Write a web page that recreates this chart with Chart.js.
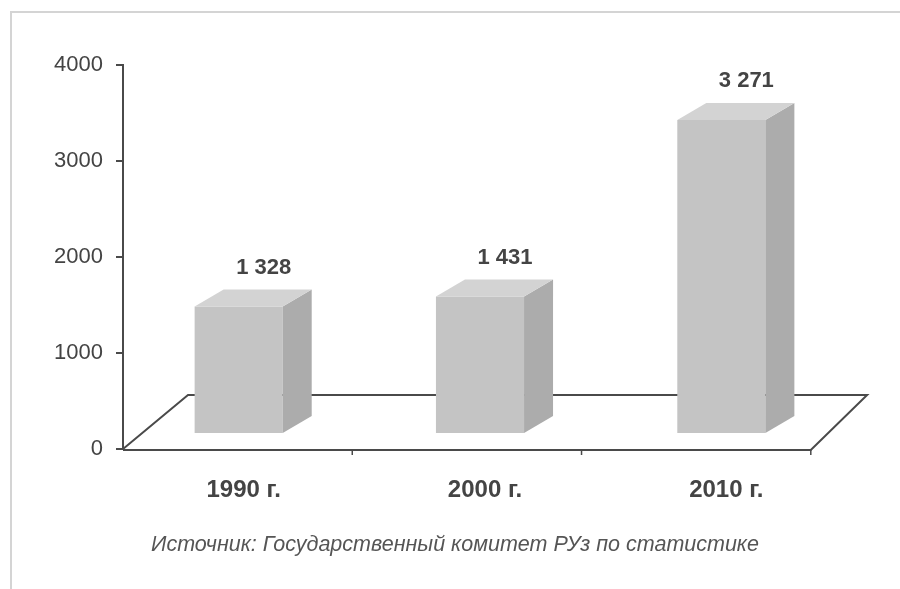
<!DOCTYPE html>
<html>
<head>
<meta charset="utf-8">
<script src="https://cdn.jsdelivr.net/npm/chart.js@4/dist/chart.umd.min.js"></script>
<style>
  html, body { margin: 0; padding: 0; background: #fff; }
  #wrap { position: relative; width: 900px; height: 589px; overflow: hidden; background: #fff; }
  #frame { position: absolute; left: 10px; top: 11px; right: 0; bottom: 0; border-top: 2px solid #d4d4d4; border-left: 2px solid #d4d4d4; }
  #chartBox { position: absolute; left: 0; top: 0; width: 900px; height: 589px; }
  #source { position: absolute; left: 0; width: 910px; top: 532px; text-align: center; font: italic 21.5px "Liberation Sans", Arial, sans-serif; color: #555; white-space: nowrap; }
</style>
</head>
<body>
<div id="wrap">
  <div id="frame"></div>
  <div id="chartBox"><canvas id="c" width="900" height="589"></canvas></div>
  <div id="source">Источник: Государственный комитет РУз по статистике</div>
</div>
<script>
const categories = ['1990 г.', '2000 г.', '2010 г.'];
const values = [1328, 1431, 3271];
const yTicks = [0, 1000, 2000, 3000, 4000];

function fmt(v) { return String(v).replace(/\B(?=(\d{3})+(?!\d))/g, ' '); }

const FRONT = '#c4c4c4', SIDE = '#acacac', TOP = '#d3d3d3', AXIS = '#4a4a4a', TXT = '#444';
const SHIFT_X = -5, SHIFT_Y = -15, DEPTH_X = 29, DEPTH_Y = -17;

const box3d = {
  id: 'box3d',
  beforeDatasetsDraw(chart) {
    const ctx = chart.ctx, xs = chart.scales.x, ys = chart.scales.y;
    const y0 = ys.getPixelForValue(0);
    const L = xs.left, W = xs.width;
    const fr = L + W * 0.95;
    const bl = L + 65, br = L + 65 + W * 0.938, by = y0 - 54;
    ctx.save();
    ctx.strokeStyle = AXIS; ctx.lineWidth = 2;
    ctx.beginPath();
    ctx.moveTo(L, y0); ctx.lineTo(bl, by); ctx.lineTo(br, by); ctx.lineTo(fr, y0 + 1); ctx.lineTo(L, y0 + 1);
    ctx.stroke();
    ctx.lineWidth = 1.5;
    for (let i = 1; i <= categories.length; i++) {
      const tx = L + i * (fr - L) / categories.length;
      ctx.beginPath(); ctx.moveTo(tx, y0 + 1); ctx.lineTo(tx, y0 + 6); ctx.stroke();
    }
    ctx.restore();
    ctx.save();
    ctx.translate(SHIFT_X, SHIFT_Y);
  },
  afterDatasetsDraw(chart) {
    const ctx = chart.ctx;
    const meta = chart.getDatasetMeta(0);
    meta.data.forEach((bar, i) => {
      const w = bar.width, l = bar.x - w / 2, r = bar.x + w / 2, t = bar.y, b = bar.base;
      ctx.fillStyle = SIDE;
      ctx.beginPath();
      ctx.moveTo(r, t); ctx.lineTo(r + DEPTH_X, t + DEPTH_Y); ctx.lineTo(r + DEPTH_X, b + DEPTH_Y); ctx.lineTo(r, b);
      ctx.closePath(); ctx.fill();
      ctx.fillStyle = TOP;
      ctx.beginPath();
      ctx.moveTo(l, t); ctx.lineTo(l + DEPTH_X, t + DEPTH_Y); ctx.lineTo(r + DEPTH_X, t + DEPTH_Y); ctx.lineTo(r, t);
      ctx.closePath(); ctx.fill();
      ctx.fillStyle = TXT;
      ctx.font = 'bold 22px "Liberation Sans", Arial, sans-serif';
      ctx.textAlign = 'center'; ctx.textBaseline = 'middle';
      ctx.fillText(fmt(values[i]), bar.x + 25, t + DEPTH_Y - 22);
    });
    ctx.restore();
  }
};

new Chart(document.getElementById('c'), {
  type: 'bar',
  data: {
    labels: categories,
    datasets: [{
      data: values,
      backgroundColor: FRONT,
      borderWidth: 0,
      barPercentage: 0.365,
      categoryPercentage: 1
    }]
  },
  options: {
    responsive: false,
    animation: false,
    events: [],
    layout: { padding: { top: 65, right: 53, left: 0, bottom: 0 } },
    plugins: { legend: { display: false }, tooltip: { enabled: false } },
    scales: {
      x: {
        grid: { display: false, drawTicks: false },
        border: { display: false },
        ticks: { font: { family: '"Liberation Sans", Arial, sans-serif', size: 24, weight: 'bold' }, color: TXT, padding: 27 },
        afterFit(s) { s.height = 140; }
      },
      y: {
        min: 0, max: 4000,
        afterBuildTicks(s) { s.ticks = yTicks.map(v => ({ value: v })); },
        ticks: { font: { family: '"Liberation Sans", Arial, sans-serif', size: 22 }, color: TXT, padding: 13,
                 callback: v => String(v) },
        grid: { drawOnChartArea: false, drawTicks: true, tickLength: 7, color: AXIS, lineWidth: 2 },
        border: { display: true, color: AXIS, width: 2 },
        afterFit(s) { s.width = 123; }
      }
    }
  },
  plugins: [box3d]
});
</script>
</body>
</html>
